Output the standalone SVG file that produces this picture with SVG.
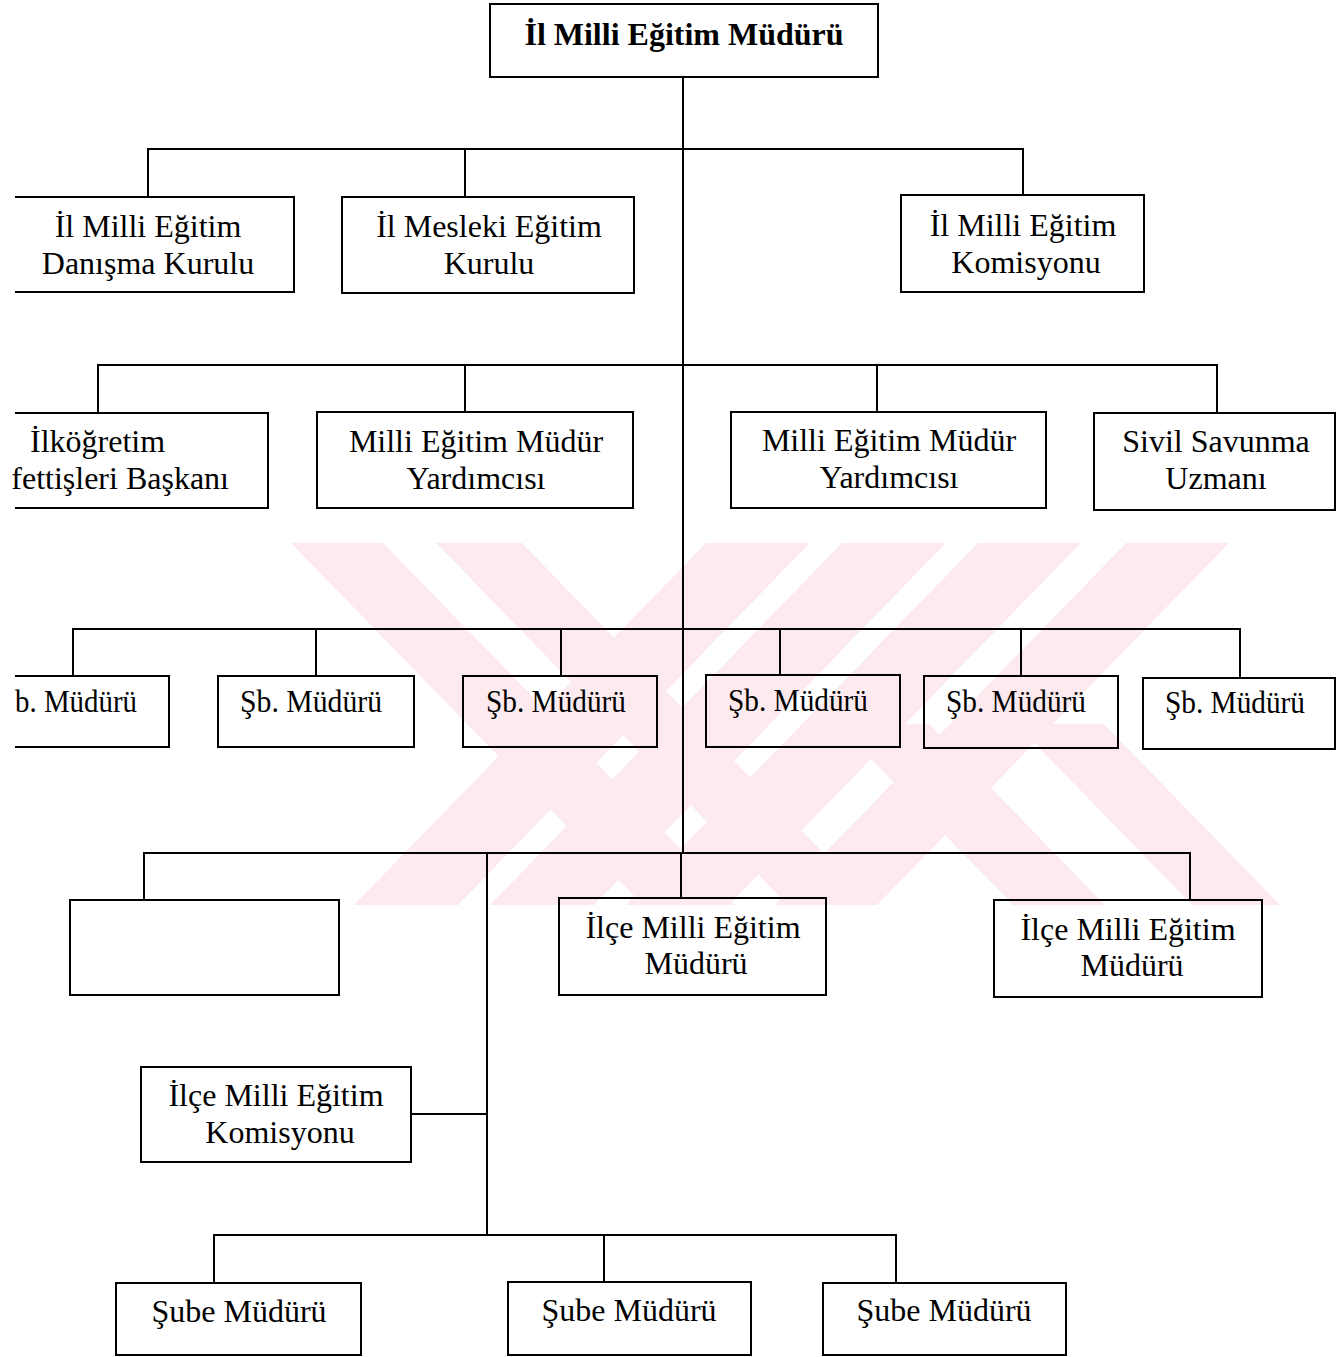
<svg xmlns="http://www.w3.org/2000/svg" width="1337" height="1357" viewBox="0 0 1337 1357">
<style>
.wm{fill:#fdeaee;stroke:none}
.bx{fill:none;stroke:#000;stroke-width:2}
.ln{fill:none;stroke:#000;stroke-width:2}
text{font-family:"Liberation Serif","Times New Roman",serif;font-size:32px;fill:#000}
.c{text-anchor:middle}
.b{font-weight:bold}
</style>
<rect x="0" y="0" width="1337" height="1357" fill="#fff"/>
<g id="watermark">
<polygon class="wm" points="291,543 383,543 735,905 643,905"/>
<polygon class="wm" points="436,543 522,543 874,905 788,905"/>
<polygon class="wm" points="706,543 810,543 458,905 354,905"/>
<polygon class="wm" points="842,543 946,543 594,905 490,905"/>
<polygon class="wm" points="978,543 1081,543 729,905 626,905"/>
<polygon class="wm" points="1126,543 1229,543 877,905 774,905"/>
<polygon class="wm" points="837,724 929,724 1105,905 1013,905"/>
<polygon class="wm" points="1016,724 1104,724 1280,905 1192,905"/>
</g>
<g id="connectors">
<path class="ln" d="M683,77 V853 M681,853 V898"/>
<path class="ln" d="M148,197 V149 H1023 V195 M465,149 V197"/>
<path class="ln" d="M98,413 V365 H1217 V413 M465,365 V412 M877,365 V412"/>
<path class="ln" d="M73,676 V629 H1240 V678 M316,629 V676 M561,629 V676 M780,629 V675 M1021,629 V676"/>
<path class="ln" d="M144,900 V853 H1190 V900 M487,853 V1235"/>
<path class="ln" d="M411,1114 H487"/>
<path class="ln" d="M214,1283 V1235 H896 V1283 M604,1235 V1282"/>
</g>
<g id="n_top">
<rect class="bx" x="490" y="4" width="388" height="73"/>
<text class="c b" x="684" y="45">İl Milli Eğitim Müdürü</text>
</g>
<g id="n_danisma">
<path class="bx" d="M15,197 H294 V292 H15"/>
<text class="c" x="148" y="237">İl Milli Eğitim</text>
<text class="c" x="148" y="274">Danışma Kurulu</text>
</g>
<g id="n_mesleki">
<rect class="bx" x="342" y="197" width="292" height="96"/>
<text class="c" x="489" y="237">İl Mesleki Eğitim</text>
<text class="c" x="489" y="274">Kurulu</text>
</g>
<g id="n_komisyon">
<rect class="bx" x="901" y="195" width="243" height="97"/>
<text class="c" x="1023" y="236">İl Milli Eğitim</text>
<text class="c" x="1026" y="273">Komisyonu</text>
</g>
<g id="n_ilkogretim">
<path class="bx" d="M15,413 H268 V508 H15"/>
<text x="30" y="452">İlköğretim</text>
<text x="229" y="489" text-anchor="end">fettişleri Başkanı</text>
</g>
<g id="n_yard1">
<rect class="bx" x="317" y="412" width="316" height="96"/>
<text class="c" x="476" y="452">Milli Eğitim Müdür</text>
<text class="c" x="476" y="489">Yardımcısı</text>
</g>
<g id="n_yard2">
<rect class="bx" x="731" y="412" width="315" height="96"/>
<text class="c" x="889" y="451">Milli Eğitim Müdür</text>
<text class="c" x="889" y="488">Yardımcısı</text>
</g>
<g id="n_sivil">
<rect class="bx" x="1094" y="413" width="241" height="97"/>
<text class="c" x="1216" y="452">Sivil Savunma</text>
<text class="c" x="1216" y="489">Uzmanı</text>
</g>
<g id="n_sb1">
<path class="bx" d="M15,676 H169 V747 H15"/>
<text x="15" y="712" textLength="122" lengthAdjust="spacingAndGlyphs">b. Müdürü</text>
</g>
<g id="n_sb2">
<rect class="bx" x="218" y="676" width="196" height="71"/>
<text x="240" y="712" textLength="142" lengthAdjust="spacingAndGlyphs">Şb. Müdürü</text>
</g>
<g id="n_sb3">
<rect class="bx" x="463" y="676" width="194" height="71"/>
<text x="486" y="712" textLength="140" lengthAdjust="spacingAndGlyphs">Şb. Müdürü</text>
</g>
<g id="n_sb4">
<rect class="bx" x="706" y="675" width="194" height="72"/>
<text x="728" y="711" textLength="140" lengthAdjust="spacingAndGlyphs">Şb. Müdürü</text>
</g>
<g id="n_sb5">
<rect class="bx" x="924" y="676" width="194" height="72"/>
<text x="946" y="712" textLength="140" lengthAdjust="spacingAndGlyphs">Şb. Müdürü</text>
</g>
<g id="n_sb6">
<rect class="bx" x="1143" y="678" width="192" height="71"/>
<text x="1165" y="713" textLength="140" lengthAdjust="spacingAndGlyphs">Şb. Müdürü</text>
</g>
<g id="n_empty">
<rect class="bx" x="70" y="900" width="269" height="95"/>
</g>
<g id="n_ilce1">
<rect class="bx" x="559" y="898" width="267" height="97"/>
<text class="c" x="693" y="938">İlçe Milli Eğitim</text>
<text class="c" x="696" y="974">Müdürü</text>
</g>
<g id="n_ilce2">
<rect class="bx" x="994" y="900" width="268" height="97"/>
<text class="c" x="1128" y="940">İlçe Milli Eğitim</text>
<text class="c" x="1132" y="976">Müdürü</text>
</g>
<g id="n_ilcekom">
<rect class="bx" x="141" y="1067" width="270" height="95"/>
<text class="c" x="276" y="1106">İlçe Milli Eğitim</text>
<text class="c" x="280" y="1143">Komisyonu</text>
</g>
<g id="n_sube1">
<rect class="bx" x="116" y="1283" width="245" height="72"/>
<text class="c" x="239" y="1322">Şube Müdürü</text>
</g>
<g id="n_sube2">
<rect class="bx" x="508" y="1282" width="243" height="73"/>
<text class="c" x="629" y="1321">Şube Müdürü</text>
</g>
<g id="n_sube3">
<rect class="bx" x="823" y="1283" width="243" height="72"/>
<text class="c" x="944" y="1321">Şube Müdürü</text>
</g>
</svg>
